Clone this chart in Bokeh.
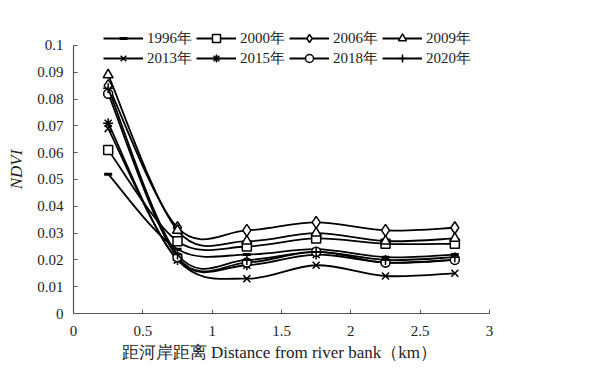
from bokeh.plotting import figure
from bokeh.models import (Range1d, FixedTicker, NumeralTickFormatter, Legend, LegendItem,
                          ColumnDataSource)
from bokeh.embed import file_html
from bokeh.resources import INLINE

distance = [0.25, 0.75, 1.25, 1.75, 2.25, 2.75]
years = ["1996年", "2000年", "2006年", "2009年", "2013年", "2015年", "2018年", "2020年"]
ndvi_1996 = [0.052, 0.024, 0.022, 0.024, 0.021, 0.022]
ndvi_2000 = [0.061, 0.027, 0.025, 0.028, 0.026, 0.026]
ndvi_2006 = [0.085, 0.032, 0.031, 0.034, 0.031, 0.032]
ndvi_2009 = [0.089, 0.031, 0.027, 0.030, 0.027, 0.028]
ndvi_2013 = [0.069, 0.020, 0.013, 0.018, 0.014, 0.015]
ndvi_2015 = [0.071, 0.020, 0.018, 0.022, 0.019, 0.020]
ndvi_2018 = [0.082, 0.021, 0.019, 0.023, 0.019, 0.020]
ndvi_2020 = [0.084, 0.022, 0.020, 0.023, 0.020, 0.021]
series = [ndvi_1996, ndvi_2000, ndvi_2006, ndvi_2009, ndvi_2013, ndvi_2015, ndvi_2018, ndvi_2020]
x_ticks = [0, 0.5, 1, 1.5, 2, 2.5, 3]
y_ticks = [0, 0.01, 0.02, 0.03, 0.04, 0.05, 0.06, 0.07, 0.08, 0.09, 0.1]
y_axis_max = 0.1

markers = [
    dict(marker="dash", size=8, line_width=3, fill_color="black"),
    dict(marker="square", size=9, line_width=1.5, fill_color="white"),
    dict(marker="diamond", size=12, line_width=1.5, fill_color="white"),
    dict(marker="triangle", size=10, line_width=1.5, fill_color="white"),
    dict(marker="x", size=10, line_width=1.5, fill_color="white"),
    dict(marker="asterisk", size=10, line_width=1.5, fill_color="white"),
    dict(marker="circle", size=9, line_width=1.5, fill_color="white"),
    dict(marker="cross", size=10, line_width=1.5, fill_color="white"),
]

SERIF = "Liberation Serif"

# frame extends ~20px above the 0.1 line so the top legend row is not clipped;
# the y axis itself is bounded to 0..0.1
p = figure(width=580, height=370, output_backend="svg", toolbar_location=None,
           x_range=Range1d(0, 3), y_range=Range1d(0, 0.10746),
           min_border_left=73, min_border_right=91, min_border_top=25, min_border_bottom=57)
p.outline_line_color = None
p.xgrid.visible = False
p.ygrid.visible = False
p.background_fill_color = "white"

for ax in (p.xaxis[0], p.yaxis[0]):
    ax.axis_line_color = "#555555"
    ax.axis_line_width = 1.2
    ax.major_tick_line_color = "#555555"
    ax.major_tick_in = 4
    ax.major_tick_out = 0
    ax.minor_tick_line_color = None
    ax.major_label_text_font = SERIF
    ax.major_label_text_font_size = "15px"
    ax.major_label_text_color = "#222222"
    ax.axis_label_text_font = SERIF
    ax.axis_label_text_font_size = "17px"
    ax.axis_label_text_color = "#222222"

p.yaxis.bounds = (0, y_axis_max)
p.xaxis.ticker = FixedTicker(ticks=x_ticks)
p.yaxis.ticker = FixedTicker(ticks=y_ticks)
p.xaxis.formatter = NumeralTickFormatter(format="0.[0]")
p.yaxis.formatter = NumeralTickFormatter(format="0.[00]")
p.xaxis.axis_label = "距河岸距离  Distance from river bank（km）"
p.yaxis.axis_label = "NDVI"
p.xaxis.axis_label_text_font_style = "normal"
p.yaxis.axis_label_text_font_style = "italic"
p.xaxis.major_label_standoff = 12
p.xaxis.axis_label_standoff = 4
p.yaxis.major_label_standoff = 10
p.yaxis.axis_label_standoff = 8


def bezier_segments(xs, ys):
    n = len(xs)
    seg = dict(x0=[], y0=[], x1=[], y1=[], cx0=[], cy0=[], cx1=[], cy1=[])
    for i in range(n - 1):
        a = max(i - 1, 0)
        d = min(i + 2, n - 1)
        seg["x0"].append(xs[i]); seg["y0"].append(ys[i])
        seg["x1"].append(xs[i + 1]); seg["y1"].append(ys[i + 1])
        seg["cx0"].append(xs[i] + (xs[i + 1] - xs[a]) / 6)
        seg["cy0"].append(ys[i] + (ys[i + 1] - ys[a]) / 6)
        seg["cx1"].append(xs[i + 1] - (xs[d] - xs[i]) / 6)
        seg["cy1"].append(ys[i + 1] - (ys[d] - ys[i]) / 6)
    return seg


items = []
for label, ys, mk in zip(years, series, markers):
    src = ColumnDataSource(bezier_segments(distance, ys))
    p.bezier(x0="x0", y0="y0", x1="x1", y1="y1", cx0="cx0", cy0="cy0", cx1="cx1", cy1="cy1",
             source=src, line_color="black", line_width=1.8)
    sr = p.scatter(distance, ys, marker=mk["marker"], size=mk["size"], line_color="black",
                   line_width=mk["line_width"], fill_color=mk["fill_color"])
    lr = p.line(x=[float("nan")], y=[float("nan")], line_color="black", line_width=1.8)
    items.append(LegendItem(label=label, renderers=[lr, sr]))


def make_legend(row_items, loc):
    return Legend(items=row_items, orientation="horizontal",
                  location=loc, glyph_width=40, glyph_height=20, label_height=20,
                  label_standoff=4, spacing=4, padding=0, margin=0,
                  label_text_font=SERIF, label_text_font_size="15px", label_text_color="#222222",
                  background_fill_alpha=0, border_line_color=None)


p.add_layout(make_legend(items[:4], (30, 265)), "center")
p.add_layout(make_legend(items[4:], (30, 245)), "center")

open("out.html", "w").write(file_html(p, INLINE))
